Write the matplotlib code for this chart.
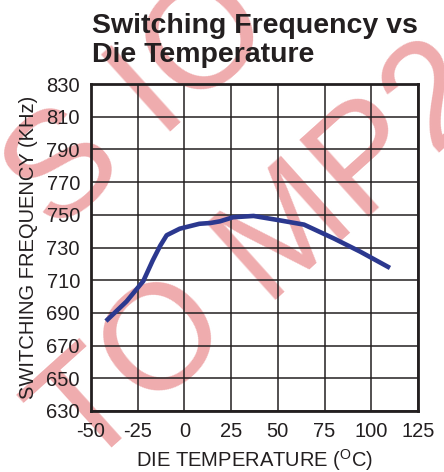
import matplotlib
matplotlib.use("Agg")
import matplotlib.pyplot as plt

plt.rcParams['font.family'] = ['Liberation Sans', 'DejaVu Sans']
plt.rcParams['mathtext.fontset'] = 'custom'
plt.rcParams['mathtext.rm'] = 'Liberation Sans'
plt.rcParams['axes.unicode_minus'] = False

# switching frequency vs die temperature
temp_c = [-42, -31, -22, -17, -13, -9.5, -2.5, 8, 14, 19, 26, 37, 49, 64, 80, 94, 110]
freq_khz = [685, 697, 709.5, 722, 731, 737.5, 741.5, 744.5, 745, 746, 748.5,
            749.3, 747, 744, 735.5, 727.5, 717.5]

x_ticks = [-50, -25, 0, 25, 50, 75, 100, 125]
y_ticks = [630, 650, 670, 690, 710, 730, 750, 770, 790, 810, 830]

fig = plt.figure(figsize=(4.44, 4.72), dpi=100)
ax = fig.add_axes([91 / 444, 1 - 411 / 472, 327 / 444, 327 / 472])
ax.patch.set_alpha(0)

# pink watermark behind everything
pink = '#EFACAE'
fig.text(290 / 444, 1 - 287 / 472, 'TO MP2', fontsize=108, color=pink,
         rotation=42, rotation_mode='anchor', ha='center', va='baseline',
         zorder=-5)
fig.text(55 / 444, 1 - 235 / 472, 'S IO', fontsize=108, color=pink,
         rotation=42, rotation_mode='anchor', ha='left', va='baseline',
         zorder=-5)

ax.plot(temp_c, freq_khz, color='#2B388F', lw=3.3, solid_capstyle='butt',
        solid_joinstyle='round', zorder=5)

ax.set_xlim(-50, 125)
ax.set_ylim(630, 830)
ax.set_xticks(x_ticks)
ax.set_yticks(y_ticks)
ax.grid(True, color='#231F20', lw=1.1)
ax.set_axisbelow(False)
for s in ax.spines.values():
    s.set_linewidth(2.0)
    s.set_color('#231F20')
ax.tick_params(length=0, labelsize=14.5, colors='#231F20', pad=8)

ax.set_xlabel('DIE TEMPERATURE ($^\\mathrm{O}$C)', fontsize=14.5,
              color='#231F20', labelpad=4)
ax.set_ylabel('SWITCHING FREQUENCY (KHz)', fontsize=14.5, color='#231F20',
              labelpad=6)

fig.text(92 / 444, 1 - 33 / 472, 'Switching Frequency vs', fontsize=20.5,
         fontweight='bold', color='#231F20', va='baseline')
fig.text(92 / 444, 1 - 62 / 472, 'Die Temperature', fontsize=20.5,
         fontweight='bold', color='#231F20', va='baseline')

fig.savefig('out.png', dpi=100)
